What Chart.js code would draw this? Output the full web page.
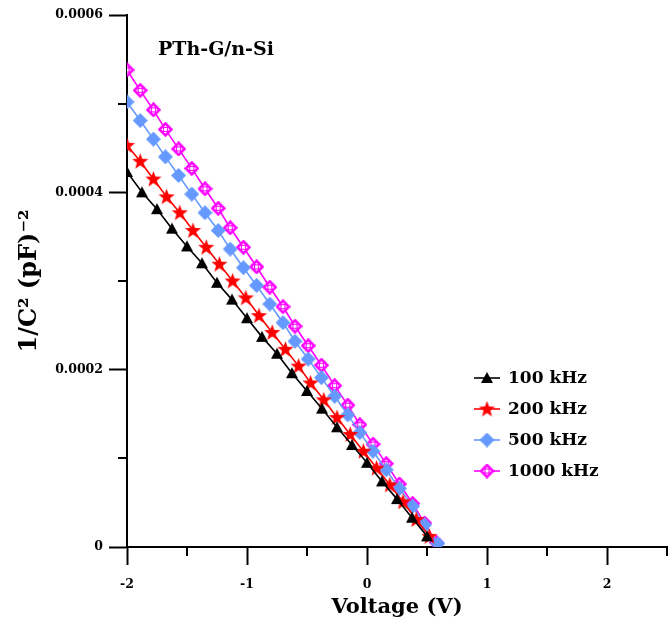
<!DOCTYPE html>
<html><head><meta charset="utf-8">
<script src="https://cdn.jsdelivr.net/npm/chart.js@4.4.1/dist/chart.umd.min.js"></script>
<style>html,body{margin:0;padding:0;background:#fff;}</style>
</head><body>
<canvas id="c" width="669" height="623" style="width:669px;height:623px;display:block"></canvas>
<script>
// ---- data ----
const seriesNames = ['100 kHz', '200 kHz', '500 kHz', '1000 kHz'];
const volt100 = [-2.000,-1.875,-1.750,-1.625,-1.500,-1.375,-1.250,-1.125,-1.000,-0.875,-0.750,-0.625,-0.500,-0.375,-0.250,-0.125,0.000,0.125,0.250,0.375,0.500];
const inv100  = [0.000423,0.000400,0.000381,0.000359,0.000339,0.000320,0.000298,0.000279,0.000258,0.000237,0.000218,0.000196,0.000176,0.000156,0.000135,0.000115,0.000095,0.000074,0.000054,0.000033,0.000012];
const volt200 = [-2.00,-1.89,-1.78,-1.67,-1.56,-1.45,-1.34,-1.23,-1.12,-1.01,-0.90,-0.79,-0.68,-0.57,-0.47,-0.36,-0.25,-0.14,-0.03,0.08,0.19,0.30,0.41,0.52];
const inv200  = [0.000453,0.000435,0.000415,0.000395,0.000377,0.000357,0.000338,0.000319,0.000300,0.000281,0.000261,0.000242,0.000223,0.000204,0.000185,0.000166,0.000146,0.000127,0.000108,0.000089,0.000070,0.000051,0.000031,0.000012];
const volt500 = [-2.00,-1.89,-1.78,-1.68,-1.57,-1.46,-1.35,-1.24,-1.14,-1.03,-0.92,-0.81,-0.70,-0.60,-0.49,-0.38,-0.27,-0.16,-0.06,0.05,0.16,0.27,0.38,0.48,0.59];
const inv500  = [0.000502,0.000481,0.000460,0.000440,0.000419,0.000398,0.000377,0.000357,0.000336,0.000315,0.000295,0.000274,0.000253,0.000232,0.000212,0.000191,0.000170,0.000149,0.000129,0.000108,0.000087,0.000066,0.000046,0.000025,0.000004];
const volt1000 = [-2.00,-1.89,-1.78,-1.68,-1.57,-1.46,-1.35,-1.24,-1.14,-1.03,-0.92,-0.81,-0.70,-0.60,-0.49,-0.38,-0.27,-0.16,-0.06,0.05,0.16,0.27,0.38,0.48,0.58];
const inv1000  = [0.000538,0.000515,0.000493,0.000471,0.000449,0.000427,0.000404,0.000382,0.000360,0.000338,0.000316,0.000293,0.000271,0.000249,0.000227,0.000205,0.000182,0.000160,0.000138,0.000116,0.000094,0.000071,0.000049,0.000027,0.000005];
const xTickValues = [-2, -1, 0, 1, 2];
const xMinorValues = [-1.5, -0.5, 0.5, 1.5, 2.5];
const yTickValues = [0, 0.0002, 0.0004, 0.0006];
const yMinorValues = [0.0001, 0.0003, 0.0005];
const annotationText = 'PTh-G/n-Si';

// ---- marker images ----
function mk(size, draw) {
  const cv = document.createElement('canvas');
  cv.width = size; cv.height = size;
  draw(cv.getContext('2d'), size);
  return cv;
}
const triImg = mk(14, (g, s) => {
  g.fillStyle = '#000';
  g.beginPath(); g.moveTo(s/2, 1); g.lineTo(s-1, s-2); g.lineTo(1, s-2); g.closePath(); g.fill();
});
const starImg = mk(17, (g, s) => {
  g.fillStyle = '#ff0000';
  const c = s/2, R = s/2, r = R*0.42;
  g.beginPath();
  for (let i = 0; i < 10; i++) {
    const a = -Math.PI/2 + i*Math.PI/5;
    const rr = i % 2 ? r : R;
    g.lineTo(c + rr*Math.cos(a), c + 0.5 + rr*Math.sin(a));
  }
  g.closePath(); g.fill();
});
const diaImg = mk(15, (g, s) => {
  g.fillStyle = '#6699ff';
  g.beginPath(); g.moveTo(s/2, 0); g.lineTo(s, s/2); g.lineTo(s/2, s); g.lineTo(0, s/2); g.closePath(); g.fill();
});
const hollowImg = mk(15, (g, s) => {
  g.strokeStyle = '#ff00ff'; g.fillStyle = '#fff'; g.lineWidth = 2.5;
  g.beginPath(); g.moveTo(s/2, 1.5); g.lineTo(s-1.5, s/2); g.lineTo(s/2, s-1.5); g.lineTo(1.5, s/2); g.closePath(); g.fill(); g.stroke();
  g.lineWidth = 1; g.strokeRect(s/2-2, s/2-2, 4, 4);
});

const colors = ['#000000', '#ff0000', '#6699ff', '#ff00ff'];
const images = [triImg, starImg, diaImg, hollowImg];
const xs = [volt100, volt200, volt500, volt1000];
const ys = [inv100, inv200, inv500, inv1000];

const datasets = seriesNames.map((n, i) => ({
  label: n,
  data: xs[i].map((x, j) => ({x: x, y: ys[i][j]})),
  borderColor: colors[i],
  backgroundColor: colors[i],
  borderWidth: 1.6,
  pointStyle: images[i],
  pointRadius: 7,
  tension: 0,
  fill: false
}));

const SERIF = '"DejaVu Serif", "Liberation Serif", serif';

const extras = {
  id: 'extras',
  afterDraw(chart) {
    const ctx = chart.ctx;
    const xs_ = chart.scales.x, ys_ = chart.scales.y;
    const ca = chart.chartArea;
    ctx.save();
    ctx.strokeStyle = '#000'; ctx.lineWidth = 2;
    xMinorValues.forEach(v => {
      const p = Math.round(xs_.getPixelForValue(v));
      ctx.beginPath(); ctx.moveTo(p, ca.bottom); ctx.lineTo(p, ca.bottom + 9); ctx.stroke();
    });
    yMinorValues.forEach(v => {
      const p = Math.round(ys_.getPixelForValue(v));
      ctx.beginPath(); ctx.moveTo(ca.left - 9, p); ctx.lineTo(ca.left, p); ctx.stroke();
    });
    // annotation
    ctx.fillStyle = '#000';
    ctx.font = 'bold 19px ' + SERIF;
    ctx.textAlign = 'left'; ctx.textBaseline = 'middle';
    ctx.fillText(annotationText, ca.left + 31, ca.top + 35);
    // legend
    const lx = 474, ly = 378, dy = 31;
    chart.data.datasets.forEach((d, i) => {
      const y = ly + i*dy;
      ctx.strokeStyle = d.borderColor; ctx.lineWidth = 1.6;
      ctx.beginPath(); ctx.moveTo(lx, y); ctx.lineTo(lx + 26, y); ctx.stroke();
      Chart.helpers.drawPoint(ctx, {pointStyle: d.pointStyle, radius: 7, rotation: 0, borderWidth: 0}, lx + 13, y);
      ctx.fillStyle = '#000';
      ctx.font = 'bold 17px ' + SERIF;
      ctx.textAlign = 'left'; ctx.textBaseline = 'middle';
      ctx.fillText(d.label, lx + 34, y + 1);
    });
    ctx.restore();
  }
};

new Chart(document.getElementById('c'), {
  type: 'line',
  data: {datasets},
  options: {
    responsive: false,
    devicePixelRatio: 1,
    animation: false,
    layout: {autoPadding: false, padding: {top: 15, right: 2, left: 0, bottom: 0}},
    plugins: {legend: {display: false}, tooltip: {enabled: false}},
    scales: {
      x: {
        type: 'linear', min: -2, max: 2.5,
        afterBuildTicks: s => { s.ticks = xTickValues.map(v => ({value: v})); },
        afterFit: s => { s.height = 76; s.paddingRight = 0; s.paddingLeft = 0; },
        border: {display: true, color: '#000', width: 2},
        grid: {display: true, drawOnChartArea: false, drawTicks: true, tickLength: 18, tickColor: '#000', tickWidth: 2},
        ticks: {color: '#000', padding: 12, font: {family: SERIF, size: 12.5, weight: 'bold'}, maxRotation: 0,
                callback: v => String(v)},
        title: {display: true, text: 'Voltage (V)', color: '#000', font: {family: SERIF, size: 21, weight: 'bold'}, padding: {top: 0, bottom: 3}}
      },
      y: {
        type: 'linear', min: 0, max: 0.0006,
        afterBuildTicks: s => { s.ticks = yTickValues.map(v => ({value: v})); },
        afterFit: s => { s.width = 127; s.paddingTop = 0; s.paddingBottom = 0; },
        border: {display: true, color: '#000', width: 2},
        grid: {display: true, drawOnChartArea: false, drawTicks: true, tickLength: 18, tickColor: '#000', tickWidth: 2},
        ticks: {color: '#000', padding: 6, font: {family: SERIF, size: 12.5, weight: 'bold'},
                callback: v => v === 0 ? '0' : v.toFixed(4)},
        title: {display: true, text: '1/C² (pF)⁻²', color: '#000', font: {family: SERIF, size: 24, weight: 'bold'}, padding: {top: 15, bottom: 0}}
      }
    }
  },
  plugins: [extras]
});
</script>
</body></html>
